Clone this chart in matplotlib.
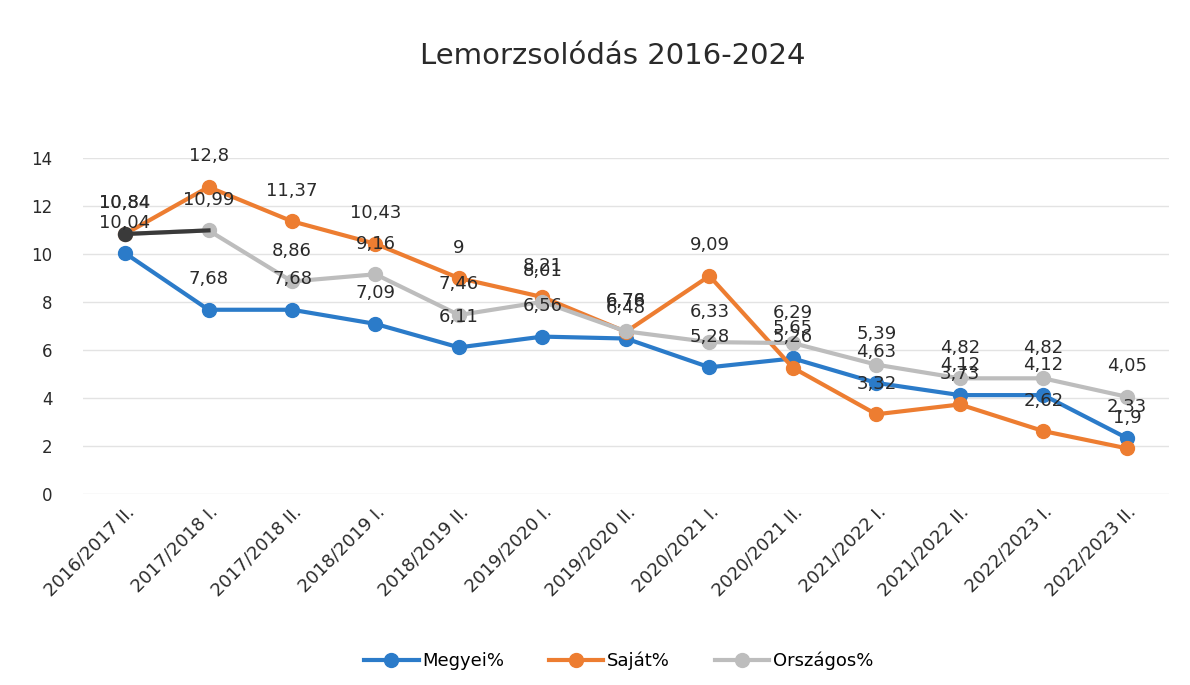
import matplotlib
matplotlib.use("Agg")
import matplotlib.pyplot as plt

categories = ["2016/2017 II.", "2017/2018 I.", "2017/2018 II.", "2018/2019 I.",
              "2018/2019 II.", "2019/2020 I.", "2019/2020 II.", "2020/2021 I.",
              "2020/2021 II.", "2021/2022 I.", "2021/2022 II.", "2022/2023 I.",
              "2022/2023 II."]
megyei = [10.04, 7.68, 7.68, 7.09, 6.11, 6.56, 6.48, 5.28, 5.65, 4.63, 4.12, 4.12, 2.33]
sajat = [10.84, 12.8, 11.37, 10.43, 9, 8.21, 6.76, 9.09, 5.26, 3.32, 3.73, 2.62, 1.9]
orszagos = [10.84, 10.99, 8.86, 9.16, 7.46, 8.01, 6.78, 6.33, 6.29, 5.39, 4.82, 4.82, 4.05]

BLUE = "#2B7BC9"
ORANGE = "#ED7D31"
GRAY = "#BDBDBD"
DARK = "#3A3A3A"
TXT = "#2A2A2A"

plt.rcParams["font.family"] = ["DejaVu Sans"]

fig = plt.figure(figsize=(11.9, 6.85), dpi=100)
ax = fig.add_axes([0.070, 0.279, 0.912, 0.490])

x = list(range(len(categories)))


def fmt(v):
    return f"{v:g}".replace(".", ",")


series = [("Megyei%", megyei, BLUE), ("Saját%", sajat, ORANGE), ("Országos%", orszagos, GRAY)]
for name, vals, col in series:
    ax.plot(x, vals, color=col, lw=3, marker="o", ms=10, label=name, zorder=3)
    for xi, v in zip(x, vals):
        ax.annotate(fmt(v), (xi, v), xytext=(0, 22), textcoords="offset points",
                    ha="center", va="center", fontsize=13, color=TXT, zorder=5)

# first segment of the national series is drawn dark in the original
ax.plot(x[:2], orszagos[:2], color=DARK, lw=3, zorder=4)
ax.plot(x[0], orszagos[0], marker="o", ms=10, color=DARK, zorder=4)

ax.set_xlim(-0.5, len(categories) - 0.5)
ax.set_ylim(0, 14)
ax.set_yticks(range(0, 15, 2))
ax.set_xticks(x)
ax.set_xticklabels(categories, rotation=45, ha="right", rotation_mode="anchor")
ax.tick_params(axis="y", length=0, labelsize=12, colors=TXT, pad=22)
ax.tick_params(axis="x", length=0, labelsize=13, colors=TXT, pad=6)
ax.grid(axis="y", color="#E3E3E3", lw=1)
ax.set_axisbelow(True)
for s in ax.spines.values():
    s.set_visible(False)

fig.text(0.515, 0.918, "Lemorzsolódás 2016-2024", ha="center", va="center",
         fontsize=21, color=TXT)

fig.legend(loc="center", bbox_to_anchor=(0.52, 0.035), ncol=3, frameon=False,
           fontsize=13, handlelength=3, columnspacing=2.5, handletextpad=0.2)

fig.savefig("out.png", dpi=100)
